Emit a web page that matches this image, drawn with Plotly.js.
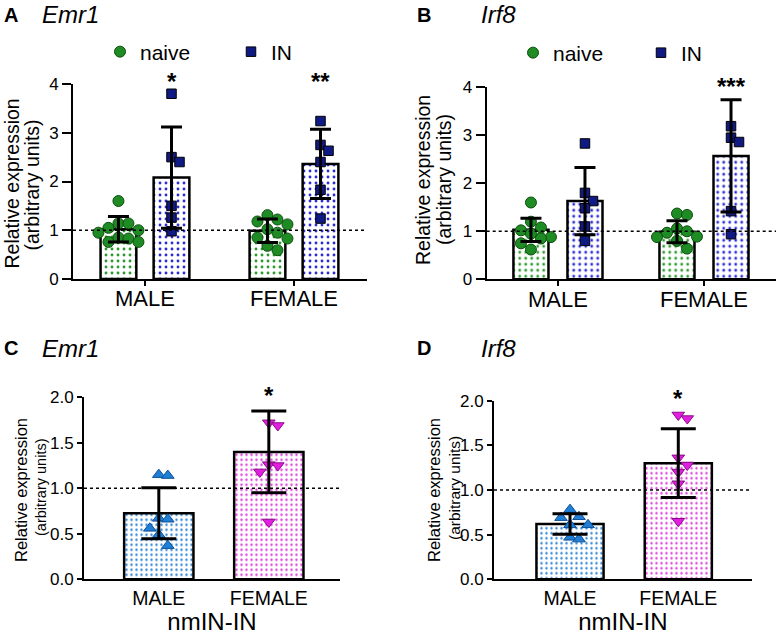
<!DOCTYPE html>
<html><head><meta charset="utf-8">
<script src="https://cdn.plot.ly/plotly-3.0.1.min.js"></script>
<style>html,body{margin:0;padding:0;background:#fff}#chart{width:777px;height:635px}</style>
</head><body><div id="chart"></div>
<script>
// ---------------- DATA ----------------
const categories = ['MALE', 'FEMALE'];
const groupNames = ['naive', 'IN'];
const xTitleCD = 'nmIN-IN';

// Panel A – Emr1
const emr1NaiveMean = [1.02, 0.99];
const emr1NaiveSD   = [0.26, 0.24];
const emr1INMean    = [2.08, 2.36];
const emr1INSD      = [1.04, 0.71];
const emr1NaiveMale   = [1.60, 1.14, 1.14, 1.05, 1.00, 0.95, 0.85, 0.83, 0.76, 0.76];
const emr1NaiveFemale = [1.31, 1.22, 1.18, 1.12, 1.02, 0.95, 0.85, 0.83, 0.68, 0.59];
const emr1INMale      = [3.80, 2.50, 2.40, 1.50, 1.26, 0.98];
const emr1INFemale    = [3.24, 2.75, 2.63, 2.40, 1.83, 1.24];
const emr1Stars = ['*', '**'];

// Panel B – Irf8
const irf8NaiveMean = [1.03, 0.99];
const irf8NaiveSD   = [0.24, 0.23];
const irf8INMean    = [1.63, 2.57];
const irf8INSD      = [0.70, 1.17];
const irf8NaiveMale   = [1.60, 1.20, 1.08, 1.02, 0.95, 0.88, 0.85, 0.75, 0.62];
const irf8NaiveFemale = [1.37, 1.34, 1.06, 1.00, 0.97, 0.89, 0.88, 0.80, 0.64];
const irf8INMale      = [2.83, 1.80, 1.63, 1.48, 1.10, 0.80];
const irf8INFemale    = [3.19, 2.95, 2.86, 1.42, 0.94];
const irf8Stars = ['', '***'];

// Panel C – Emr1 nmIN-IN
const nmEmr1Mean = [0.725, 1.40];
const nmEmr1SD   = [0.28, 0.45];
const nmEmr1Male   = [1.15, 1.14, 0.67, 0.66, 0.56, 0.49, 0.37];
const nmEmr1Female = [1.72, 1.69, 1.26, 1.25, 1.18, 0.63];
const nmEmr1Stars = ['', '*'];

// Panel D – Irf8 nmIN-IN
const nmIrf8Mean = [0.62, 1.30];
const nmIrf8SD   = [0.115, 0.385];
const nmIrf8Male   = [0.78, 0.70, 0.69, 0.61, 0.61, 0.47, 0.45];
const nmIrf8Female = [1.84, 1.80, 1.36, 1.28, 1.20, 1.07, 0.65];
const nmIrf8Stars = ['', '*'];

const panelLetters = ['A', 'B', 'C', 'D'];
const geneNames = ['Emr1', 'Irf8', 'Emr1', 'Irf8'];

// ---------------- LAYOUT HELPERS ----------------
const W = 777, H = 635;
const FONT = 'Liberation Sans, Arial, Helvetica, sans-serif';
const px = v => v / W;
const py = v => 1 - v / H;

const panels = [
  {xa:'x',  ya:'y',  x0:73,    x1:367,   yT:84,    yB:279,   yMax:4, xr:[0.517, 2.49],  dtick:1,   fmt:'d'},
  {xa:'x2', ya:'y2', x0:486.7, x1:776,   yT:87.3,  yB:279.3, yMax:4, xr:[0.512, 2.493], dtick:1,   fmt:'d'},
  {xa:'x3', ya:'y3', x0:84,    x1:340,   yT:397.3, yB:579.3, yMax:2, xr:[0.32, 2.647],  dtick:0.5, fmt:'.1f'},
  {xa:'x4', ya:'y4', x0:494,   x1:751.7, yT:400.7, yB:579.3, yMax:2, xr:[0.298, 2.678], dtick:0.5, fmt:'.1f'}
];
panels.forEach(p => {
  p.xPx = (p.x1 - p.x0) / (p.xr[1] - p.xr[0]);
  p.yPx = (p.yB - p.yT) / p.yMax;
});

// grid-style scatter spread (like a column scatter): offsets in multiples of `step` px
function swarm(vals, step, Dy, p) {
  const placed = [], out = [];
  const ks = [0, 1, -1, 2, -2, 3, -3];
  vals.forEach(v => {
    const y = v * p.yPx;
    let best = 0;
    for (const k of ks) {
      const c = k * step;
      if (placed.every(q => Math.abs(q.y - y) >= Dy || Math.abs(q.x - c) >= step * 0.99)) { best = c; break; }
    }
    placed.push({x: best, y});
    out.push(best / p.xPx);
  });
  return out;
}

const traces = [];
const COL = {
  green: '#1f8b24', greenLine: '#0c4f0e', greenDot: '#2a9a2a',
  navy: '#101a84', blueDot: '#2b2bd8',
  lblue: '#1f7fd6', lblueLine: '#0d4f95', lblueDot: '#2f86d8',
  mag: '#e21fe0', magLine: '#8a0d88', magDot: '#e040e0'
};

function barTrace(p, xs, means, width, dot, spacing) {
  return {
    type: 'bar', x: xs, y: means, width: width, xaxis: p.xa, yaxis: p.ya,
    marker: {color: 'white', line: {color: 'black', width: 2.5},
             pattern: {shape: '.', fgcolor: dot, bgcolor: 'white', size: spacing, solidity: 0.18, fillmode: 'replace'}},
    showlegend: false, hoverinfo: 'skip'
  };
}
function pointTrace(p, centers, groups, marker, name, legend, showlegend, step, Dy) {
  const xs = [], ys = [];
  groups.forEach((vals, i) => {
    const off = swarm(vals, step, Dy, p);
    vals.forEach((v, j) => { xs.push(centers[i] + off[j]); ys.push(v); });
  });
  return {type: 'scatter', mode: 'markers', x: xs, y: ys, xaxis: p.xa, yaxis: p.ya,
          marker: marker, name: name, legend: legend, showlegend: showlegend, hoverinfo: 'skip', cliponaxis: false};
}
function errTrace(p, xs, means, sds, cap) {
  return {type: 'scatter', mode: 'markers', x: xs, y: means, xaxis: p.xa, yaxis: p.ya,
          marker: {size: 1, color: 'rgba(0,0,0,0)'},
          error_y: {type: 'data', array: sds, visible: true, color: 'black', thickness: 3, width: cap},
          showlegend: false, hoverinfo: 'skip', cliponaxis: false};
}

// Panels A & B (two groups each)
const abSets = [
  {p: panels[0], nm: emr1NaiveMean, ns: emr1NaiveSD, im: emr1INMean, is: emr1INSD,
   np: [emr1NaiveMale, emr1NaiveFemale], ip: [emr1INMale, emr1INFemale], off: 0.178, w: 0.24, legend: 'legend'},
  {p: panels[1], nm: irf8NaiveMean, ns: irf8NaiveSD, im: irf8INMean, is: irf8INSD,
   np: [irf8NaiveMale, irf8NaiveFemale], ip: [irf8INMale, irf8INFemale], off: 0.185, w: 0.24, legend: 'legend2'}
];
abSets.forEach(s => {
  const nx = categories.map((c, i) => i + 1 - s.off);
  const ix = categories.map((c, i) => i + 1 + s.off);
  traces.push(barTrace(s.p, nx, s.nm, s.w, COL.greenDot, 6));
  traces.push(barTrace(s.p, ix, s.im, s.w, COL.blueDot, 6));
  traces.push(pointTrace(s.p, nx, s.np, {symbol: 'circle', size: 11, color: COL.green, line: {color: COL.greenLine, width: 1}},
                         groupNames[0], s.legend, true, 10, 10));
  traces.push(pointTrace(s.p, ix, s.ip, {symbol: 'square', size: 9.5, color: COL.navy, line: {color: '#000', width: 1}},
                         groupNames[1], s.legend, true, 8, 11));
  traces.push(errTrace(s.p, nx, s.nm, s.ns, 10.5));
  traces.push(errTrace(s.p, ix, s.im, s.is, 10.5));
});

// Panels C & D (one group each, two categories)
const cdSets = [
  {p: panels[2], m: nmEmr1Mean, s: nmEmr1SD, pts: [nmEmr1Male, nmEmr1Female], w: 0.63},
  {p: panels[3], m: nmIrf8Mean, s: nmIrf8SD, pts: [nmIrf8Male, nmIrf8Female], w: 0.62}
];
cdSets.forEach(s => {
  [0, 1].forEach(i => {
    traces.push(barTrace(s.p, [i + 1], [s.m[i]], s.w, i === 0 ? COL.lblueDot : COL.magDot, 5));
  });
  [0, 1].forEach(i => {
    const mk = i === 0
      ? {symbol: 'triangle-up', size: 11, color: COL.lblue, line: {color: COL.lblueLine, width: 1}}
      : {symbol: 'triangle-down', size: 11, color: COL.mag, line: {color: COL.magLine, width: 1}};
    traces.push(pointTrace(s.p, [i + 1], [s.pts[i]], mk, categories[i], 'legend', false, 9, 11));
  });
  traces.push(errTrace(s.p, [1, 2], s.m, s.s, 17.5));
});

// ---------------- AXES ----------------
const layout = {
  width: W, height: H, margin: {l: 0, r: 0, t: 0, b: 0, autoexpand: false},
  paper_bgcolor: 'white', plot_bgcolor: 'rgba(0,0,0,0)',
  font: {family: FONT, color: '#000'},
  barmode: 'overlay', showlegend: true,
  shapes: [], annotations: []
};
panels.forEach((p, k) => {
  const n = k === 0 ? '' : String(k + 1);
  const isCD = k >= 2;
  layout['xaxis' + n] = {
    domain: [px(p.x0), px(p.x1)], range: p.xr, anchor: p.ya,
    tickmode: 'array', tickvals: [1, 2], ticktext: categories,
    showline: true, linecolor: '#000', linewidth: 2, showgrid: false, zeroline: false,
    ticks: isCD ? '' : 'outside', ticklen: 5, tickwidth: 1.5, tickcolor: '#000',
    ticklabelstandoff: isCD ? 0 : -6,
    tickfont: {size: isCD ? 19.5 : 22, family: FONT, color: '#000'},
    fixedrange: true, automargin: false,
    title: isCD ? {text: xTitleCD, font: {size: 24, family: FONT, color: '#000'}, standoff: 4} : {text: ''}
  };
  layout['yaxis' + n] = {
    domain: [py(p.yB), py(p.yT)], range: [0, p.yMax], anchor: p.xa,
    tickmode: 'linear', tick0: 0, dtick: p.dtick, tickformat: p.fmt,
    showline: true, linecolor: '#000', linewidth: 2, showgrid: false, zeroline: false,
    ticks: 'outside', ticklen: isCD ? 5 : 9, tickwidth: 2, tickcolor: '#000',
    tickfont: {size: 17, family: FONT, color: '#000'},
    fixedrange: true, automargin: false
  };
  layout.shapes.push({type: 'line', xref: p.xa + ' domain', yref: p.ya, x0: 0, x1: 1, y0: 1, y1: 1,
                      line: {color: '#000', width: 1.5, dash: 'dot'}});
});

// legends for A and B
layout.legend = {x: px(100), y: py(52), xanchor: 'left', yanchor: 'middle', orientation: 'h',
  font: {size: 21, family: FONT, color: '#000'}, entrywidth: 86, entrywidthmode: 'pixels',
  bgcolor: 'rgba(0,0,0,0)', borderwidth: 0, itemclick: false, itemdoubleclick: false};
layout.legend2 = {x: px(513), y: py(53), xanchor: 'left', yanchor: 'middle', orientation: 'h',
  font: {size: 21, family: FONT, color: '#000'}, entrywidth: 83, entrywidthmode: 'pixels',
  bgcolor: 'rgba(0,0,0,0)', borderwidth: 0, itemclick: false, itemdoubleclick: false};

// panel letters and gene names
const titlePos = [[10.5, 70, 15], [424, 498, 15], [10.5, 70, 348], [424, 498, 348]];
titlePos.forEach((t, k) => {
  layout.annotations.push({xref: 'paper', yref: 'paper', x: px(t[0]), y: py(t[2]), xanchor: 'center', yanchor: 'middle',
    text: '<b>' + panelLetters[k] + '</b>', showarrow: false, font: {size: 20, family: FONT, color: '#000'}});
  layout.annotations.push({xref: 'paper', yref: 'paper', x: px(t[1]), y: py(t[2]), xanchor: 'center', yanchor: 'middle',
    text: '<i>' + geneNames[k] + '</i>', showarrow: false, font: {size: 24, family: FONT, color: '#000'}});
});

// y-axis titles (two lines)
const yTitleLines = ['Relative expression', '(arbitrary units)'];
const yTitlePos = [
  [[11.5, 184, 19.5], [31.5, 185, 19.5]],
  [[423, 180, 19.5], [444, 180, 19.5]],
  [[21, 490, 16.5], [41, 487, 14.5]],
  [[434, 490, 16.5], [454, 488, 15.5]]
];
yTitlePos.forEach(lines => {
  lines.forEach((l, i) => {
    layout.annotations.push({xref: 'paper', yref: 'paper', x: px(l[0]), y: py(l[1]), xanchor: 'center', yanchor: 'middle',
      text: yTitleLines[i], textangle: -90, showarrow: false, font: {size: l[2], family: FONT, color: '#000'}});
  });
});

// significance stars
const starSets = [
  {p: panels[0], stars: emr1Stars, xs: categories.map((c, i) => i + 1 + 0.178), y: 77},
  {p: panels[1], stars: irf8Stars, xs: categories.map((c, i) => i + 1 + 0.185), y: 81.7},
  {p: panels[2], stars: nmEmr1Stars, xs: [1, 2], y: 390},
  {p: panels[3], stars: nmIrf8Stars, xs: [1, 2], y: 393}
];
starSets.forEach(s => {
  s.stars.forEach((st, i) => {
    if (!st) return;
    layout.annotations.push({xref: s.p.xa, yref: 'paper', x: s.xs[i], y: py(s.y + 5), xanchor: 'center', yanchor: 'middle',
      text: '<b>' + st + '</b>', showarrow: false, font: {size: 24, family: FONT, color: '#000'}});
  });
});

Plotly.newPlot('chart', traces, layout, {staticPlot: true, displayModeBar: false});
</script></body></html>
